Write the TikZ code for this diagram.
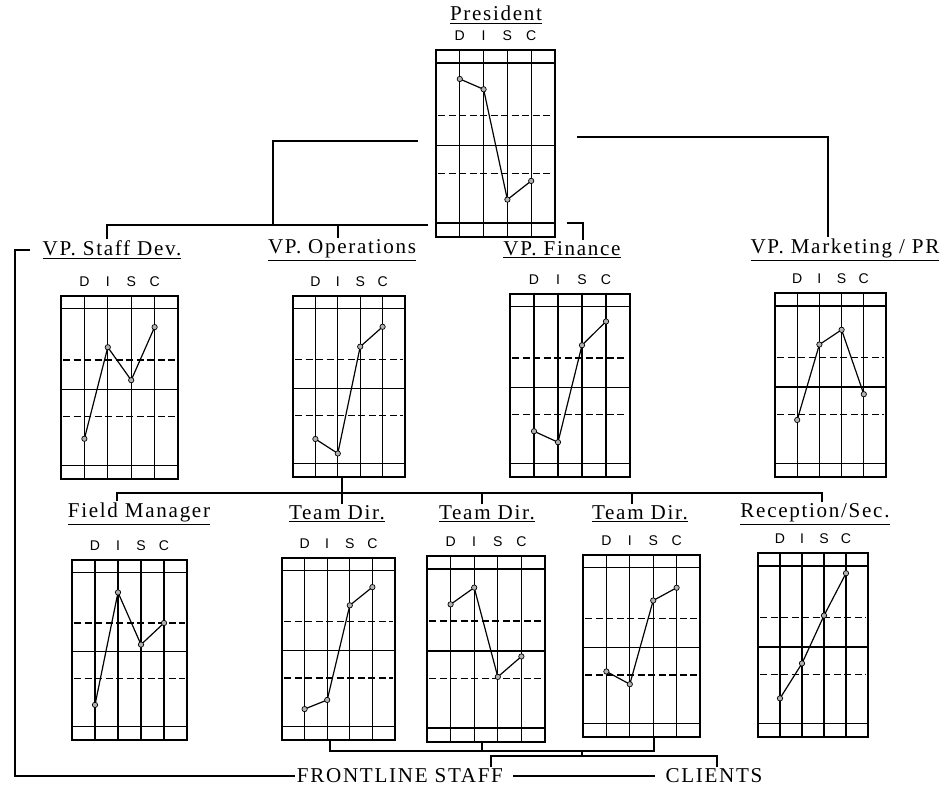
\documentclass[tikz,border=0pt]{standalone}
\usepackage{fontspec}
\setmainfont{Liberation Serif}
\newfontfamily\titlefont{Liberation Serif}[LetterSpace=8]
\newfontfamily\discfont{Liberation Sans}

\begin{document}
\begin{tikzpicture}[x=0.025cm, y=-0.025cm,
            chartline/.style={line width=0.95pt},
            profile/.style={line width=0.85pt},
            tree/.style={line width=1pt},
            plotdot/.style={circle, draw, fill=gray!60, line width=0.5pt, minimum size=3.8pt, inner sep=0pt},
            discletter/.style={font=\discfont\fontsize{10}{12}\selectfont, inner sep=0pt},
            headline/.style={font=\titlefont\fontsize{15}{18}\selectfont, inner sep=1pt},
            % DISC chart: width, height, then D, I, S, C read from the bottom
            pics/disc/.style n args={6}{code={
                \draw[chartline] (0,0) rectangle (#1,#2);
                \foreach \f in {0.07,0.51,0.925}
                    \draw[chartline] (0,\f*#2) -- (#1,\f*#2);
                \foreach \f in {0.35,0.66}
                    \draw[chartline, dash pattern=on 5pt off 2.5pt] (2,\f*#2) -- (#1-2,\f*#2);
                \foreach \k/\l in {1/D,2/I,3/S,4/C} {
                    \draw[chartline] (\k*#1/5,0) -- (\k*#1/5,#2);
                    \node[discletter] at (\k*#1/5,-14) {\l};
                }
                \draw[profile] (#1/5,{(1-#3)*#2}) -- (2*#1/5,{(1-#4)*#2})
                    -- (3*#1/5,{(1-#5)*#2}) -- (4*#1/5,{(1-#6)*#2});
                \foreach \k/\v in {1/#3,2/#4,3/#5,4/#6}
                    \node[plotdot] at (\k*#1/5,{(1-\v)*#2}) {};
                \coordinate (-s) at (#1/2,#2);
            }}]
            \useasboundingbox (0,0) rectangle (950,790);

            % charts
            \pic (pres) at (436,50) {disc={119}{187}{.845}{.79}{.20}{.30}};
            \pic (vpstaff) at (61,296) {disc={117}{183}{.22}{.72}{.54}{.83}};
            \pic (vpops) at (293,296) {disc={112}{181}{.21}{.13}{.72}{.83}};
            \pic (vpfin) at (510,294) {disc={120}{183}{.25}{.19}{.72}{.85}};
            \pic (vpmkt) at (775,293) {disc={111}{184}{.31}{.72}{.80}{.45}};
            \pic (field) at (72,560) {disc={115}{180}{.195}{.82}{.53}{.65}};
            \pic (teamA) at (282,558) {disc={113}{182}{.17}{.22}{.74}{.84}};
            \pic (teamB) at (427,556) {disc={118}{186}{.74}{.83}{.35}{.46}};
            \pic (teamC) at (583,555) {disc={117}{182}{.36}{.29}{.75}{.82}};
            \pic (recep) at (758,553) {disc={110}{184}{.21}{.40}{.66}{.89}};

            % titles
            \node[headline] (tpres) at (496,15) {\underline{President}};
            \node[headline] (tvpstaff) at (112,250) {\underline{VP. Staff Dev.}};
            \node[headline] (tvpops) at (342,250) {\underline{VP. Operations}};
            \node[headline] (tvpfin) at (562,250) {\underline{VP. Finance}};
            \node[headline] (tvpmkt) at (845,250) {\underline{VP. Marketing / PR}};
            \node[headline] (tfield) at (139,514) {\underline{Field Manager}};
            \node[headline] (tteamA) at (337,514) {\underline{Team Dir.}};
            \node[headline] (tteamB) at (487,514) {\underline{Team Dir.}};
            \node[headline] (tteamC) at (640,514) {\underline{Team Dir.}};
            \node[headline] (trecep) at (815,514) {\underline{Reception/Sec.}};
            \node[headline] (tfront) at (400,776) {FRONTLINE STAFF};
            \node[headline] (tclients) at (714,776) {CLIENTS};

            % president down to the VPs
            \coordinate (pl) at (418,141);
            \coordinate (pk) at (273,225);
            \coordinate (bar1w) at (107,225);
            \coordinate (bar1m) at (338,225);
            \coordinate (bar1e) at (428,225);
            \draw[tree] (pl) -| (pk);
            \draw[tree] (bar1w |- tvpstaff.north) -- (bar1w) -- (bar1e);
            \draw[tree] (bar1m) -- (bar1m |- tvpops.north);
            \coordinate (pr) at (577,137);
            \coordinate (prk) at (828,137);
            \draw[tree] (pr) -- (prk) -- (prk |- tvpmkt.north);
            \coordinate (pf) at (567,223);
            \coordinate (pfk) at (583,223);
            \draw[tree] (pf) -- (pfk) -- (pfk |- tvpfin.north);

            % VPs down to the second row
            \coordinate (m1) at (117,493);
            \coordinate (mo) at (342,493);
            \coordinate (mb) at (482,493);
            \coordinate (mc) at (632,493);
            \coordinate (m2) at (822,493);
            \draw[tree] (m1 |- tfield.north) -- (m1) -- (m2) -- (m2 |- trecep.north);
            \draw[tree] (mo |- vpops-s) -- (mo |- tteamA.north);
            \draw[tree] (mb) -- (mb |- tteamB.north);
            \draw[tree] (mc) -- (mc |- tteamC.north);

            % team directors down to frontline staff and clients
            \coordinate (b1) at (330,751);
            \coordinate (b2) at (482,751);
            \coordinate (bc) at (582,751);
            \coordinate (b3) at (654,751);
            \draw[tree] (b1 |- teamA-s) -- (b1) -- (b3) -- (b3 |- teamC-s);
            \draw[tree] (b2) -- (b2 |- teamB-s);
            \coordinate (c1) at (491,756);
            \coordinate (c2) at (717,756);
            \draw[tree] (c1 |- tfront.north) -- (c1) -- (c2) -- (c2 |- tclients.north);
            \draw[tree] (bc) -- (bc |- c1);

            % left bracket and bottom line
            \coordinate (lt) at (30,250);
            \coordinate (lc) at (15,250);
            \draw[tree] (lt) -- (lc) -- (lc |- tfront.west) -- (tfront.west);
            \draw[tree] ([xshift=6]tfront.east) -- ([xshift=-6]tclients.west);
        \end{tikzpicture}
\end{document}
